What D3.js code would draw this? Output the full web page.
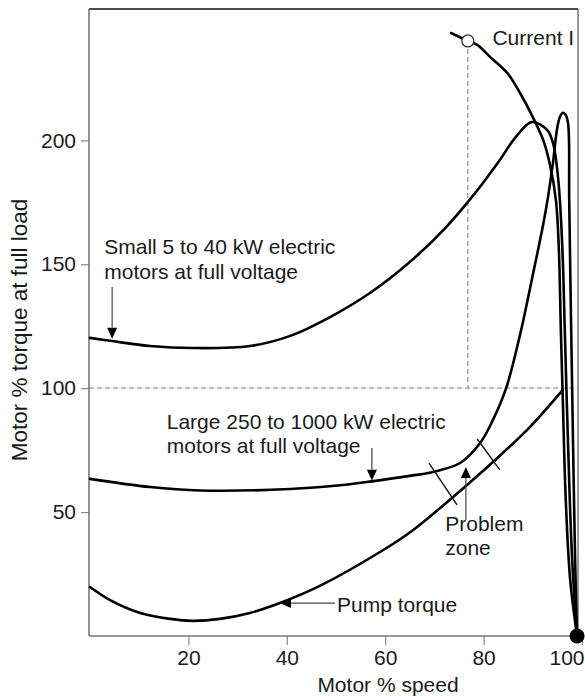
<!DOCTYPE html>
<html>
<head>
<meta charset="utf-8">
<script src="https://cdn.jsdelivr.net/npm/d3@7"></script>
<style>
  html, body { margin: 0; padding: 0; background: #fff; }
  svg { display: block; }
  text { font-family: "Liberation Sans", Arial, Helvetica, sans-serif; fill: #1a1a1a; }
</style>
</head>
<body>
<svg id="chart" width="585" height="696"></svg>
<script>
// ---- data (x = motor % speed, y = motor % torque at full load) ----
const xTicks = [20, 40, 60, 80, 100];
const yTicks = [50, 100, 150, 200];

const smallMotor = [
  [0, 120.3], [4.5, 119.0], [12.2, 117.0], [20.9, 116.2], [32.5, 117.0], [40.7, 121.1],
  [48.8, 128.7], [56.9, 138.4], [65.0, 150.9], [72.2, 164.6], [78.3, 178.8], [83.3, 192.1],
  [86.4, 201.0], [89.8, 207.4], [92.9, 204.2], [94.1, 199.0], [94.9, 189.3], [95.5, 176.0],
  [96.1, 151.7], [96.5, 123.5], [97.2, 75.1], [98.0, 30.7], [99.0, 0]
];
const largeMotor = [
  [0, 63.4], [12.2, 60.1], [22.4, 58.7], [40.7, 59.3], [50.8, 60.8], [57.3, 62.4],
  [65.0, 64.6], [69.7, 66.2], [75.2, 69.8], [79.3, 77.9], [81.9, 87.2], [84.6, 100.1],
  [87.4, 121.5], [90.0, 145.7], [92.1, 165.9], [93.1, 177.2], [94.1, 190.9], [94.9, 204.2],
  [95.5, 209.4], [96.1, 211.1], [96.7, 210.2], [97.2, 206.2], [97.4, 176.0], [97.8, 123.5],
  [98.2, 75.1], [98.6, 30.7], [99.0, 0]
];
const pumpTorque = [
  [0, 19.8], [4.1, 14.5], [10.2, 9.3], [16.3, 6.9], [20.9, 6.1], [26.4, 6.9], [32.5, 9.3],
  [38.6, 13.3], [46.7, 20.2], [59.6, 34.7], [65.7, 42.8], [73.8, 56.1], [81.9, 70.2],
  [89.4, 84.3], [96.1, 99.3]
];
const currentI = [
  [73.4, 243.3], [76.8, 240.1], [78.7, 238.5], [81.3, 233.7], [84.8, 227.2], [87.4, 219.1],
  [90.0, 209.4], [92.1, 200.2], [93.5, 190.1], [94.7, 175.9], [95.3, 155.8], [95.7, 123.5],
  [96.1, 95.2], [96.7, 54.9], [97.6, 22.6], [99.0, 0]
];
const currentMarker = [76.8, 240.1];
const syncPoint = [99.0, 0];
const refTorque = 100;

// annotation anchors (data space)
const problemTicks = [[[68.9, 69.8], [74.6, 52.9]], [[78.7, 79.5], [83.3, 67.0]]];
const arrows = [
  { from: [4.5, 140.8], to: [4.5, 119.9] },
  { from: [57.3, 75.9], to: [57.3, 62.6] },
  { from: [76.4, 46.8], to: [76.4, 68.2] },
  { from: [49.8, 13.3], to: [38.6, 13.3] }
];
const labels = [
  { lines: ["Small 5 to 40 kW electric", "motors at full voltage"], at: [2.9, 154.0] },
  { lines: ["Large 250 to 1000 kW electric", "motors at full voltage"], at: [15.6, 83.6] },
  { lines: ["Problem", "zone"], at: [72.2, 42.4] },
  { lines: ["Pump torque"], at: [50.2, 9.8] },
  { lines: ["Current I"], at: [81.8, 238.3] }
];

// ---- layout ----
const svg = d3.select("#chart");
const x = d3.scaleLinear().domain([0, 100]).range([90, 582]);
const y = d3.scaleLinear().domain([0, 253]).range([636, 9]);
const frameL = 89, frameR = 578, frameT = 9, frameB = 636;
const fs = 21;

// reference dashed lines
svg.append("line")
  .attr("x1", frameL).attr("x2", frameR).attr("y1", y(refTorque)).attr("y2", y(refTorque))
  .attr("stroke", "#9a9a9a").attr("stroke-width", 1.3).attr("stroke-dasharray", "5,3");
svg.append("line")
  .attr("x1", x(currentMarker[0])).attr("x2", x(currentMarker[0]))
  .attr("y1", y(currentMarker[1])).attr("y2", y(refTorque))
  .attr("stroke", "#9a9a9a").attr("stroke-width", 1.3).attr("stroke-dasharray", "5,3");

// frame
svg.append("line").attr("x1", frameL).attr("x2", frameR).attr("y1", frameT).attr("y2", frameT)
  .attr("stroke", "#111").attr("stroke-width", 1.5);
svg.append("line").attr("x1", frameR).attr("x2", frameR).attr("y1", frameT).attr("y2", frameB)
  .attr("stroke", "#555").attr("stroke-width", 1.2);

// axes
const xAxis = d3.axisBottom(x).tickValues(xTicks).tickSize(9).tickPadding(5);
const gx = svg.append("g").attr("transform", `translate(0,${frameB})`).call(xAxis);
gx.select(".domain").remove();
gx.selectAll(".tick line").attr("stroke", "#888").attr("stroke-width", 1.2);
gx.selectAll(".tick text").style("font-size", fs + "px").attr("fill", "#1a1a1a")
  .attr("font-family", null)
  .attr("text-anchor", d => d === 100 ? "end" : "middle")
  .attr("dx", d => d === 100 ? 2 : 0);
svg.append("line").attr("x1", frameL).attr("x2", frameR).attr("y1", frameB).attr("y2", frameB)
  .attr("stroke", "#777").attr("stroke-width", 1.6);

const yAxis = d3.axisLeft(y).tickValues(yTicks).tickSize(8).tickPadding(5);
const gy = svg.append("g").attr("transform", `translate(${frameL},0)`).call(yAxis);
gy.select(".domain").remove();
gy.selectAll(".tick line").attr("stroke", "#888").attr("stroke-width", 1.2);
gy.selectAll(".tick text").style("font-size", fs + "px").attr("fill", "#1a1a1a").attr("font-family", null);
svg.append("line").attr("x1", frameL).attr("x2", frameL).attr("y1", frameT).attr("y2", frameB)
  .attr("stroke", "#777").attr("stroke-width", 1.6);

svg.append("text").attr("x", 388).attr("y", 692).attr("text-anchor", "middle")
  .style("font-size", fs + "px").text("Motor % speed");
svg.append("text").attr("transform", "translate(27,330) rotate(-90)").attr("text-anchor", "middle")
  .style("font-size", "22.5px").text("Motor % torque at full load");

// curves
const line = d3.line().x(d => x(d[0])).y(d => y(d[1])).curve(d3.curveCatmullRom.alpha(0.5));
[smallMotor, largeMotor, pumpTorque, currentI].forEach(s => {
  svg.append("path").datum(s).attr("d", line)
    .attr("fill", "none").attr("stroke", "#000").attr("stroke-width", 2.6)
    .attr("stroke-linejoin", "round").attr("stroke-linecap", "round");
});

// problem zone ticks
problemTicks.forEach(t => {
  svg.append("line").attr("x1", x(t[0][0])).attr("y1", y(t[0][1]))
    .attr("x2", x(t[1][0])).attr("y2", y(t[1][1]))
    .attr("stroke", "#111").attr("stroke-width", 1.4);
});

// annotation arrows
arrows.forEach(a => {
  const x1 = x(a.from[0]), y1 = y(a.from[1]), x2 = x(a.to[0]), y2 = y(a.to[1]);
  const ang = Math.atan2(y2 - y1, x2 - x1);
  const L = 11, W = 5;
  const bx = x2 - L * Math.cos(ang), by = y2 - L * Math.sin(ang);
  svg.append("line").attr("x1", x1).attr("y1", y1).attr("x2", bx).attr("y2", by)
    .attr("stroke", "#444").attr("stroke-width", 1.2);
  const p = [
    [x2, y2],
    [bx + W * Math.sin(ang), by - W * Math.cos(ang)],
    [bx - W * Math.sin(ang), by + W * Math.cos(ang)]
  ];
  svg.append("path").attr("d", "M" + p.map(q => q.join(",")).join("L") + "Z").attr("fill", "#000");
});

// markers
svg.append("circle").attr("cx", x(currentMarker[0])).attr("cy", y(currentMarker[1])).attr("r", 6)
  .attr("fill", "#fff").attr("stroke", "#333").attr("stroke-width", 1.3);
svg.append("circle").attr("cx", x(syncPoint[0])).attr("cy", y(syncPoint[1])).attr("r", 7.5)
  .attr("fill", "#000");

// labels
labels.forEach(l => {
  const t = svg.append("text").attr("x", x(l.at[0])).attr("y", y(l.at[1])).style("font-size", fs + "px");
  l.lines.forEach((s, i) => {
    t.append("tspan").attr("x", x(l.at[0])).attr("dy", i === 0 ? 0 : 24.5).text(s);
  });
});
</script>
</body>
</html>
